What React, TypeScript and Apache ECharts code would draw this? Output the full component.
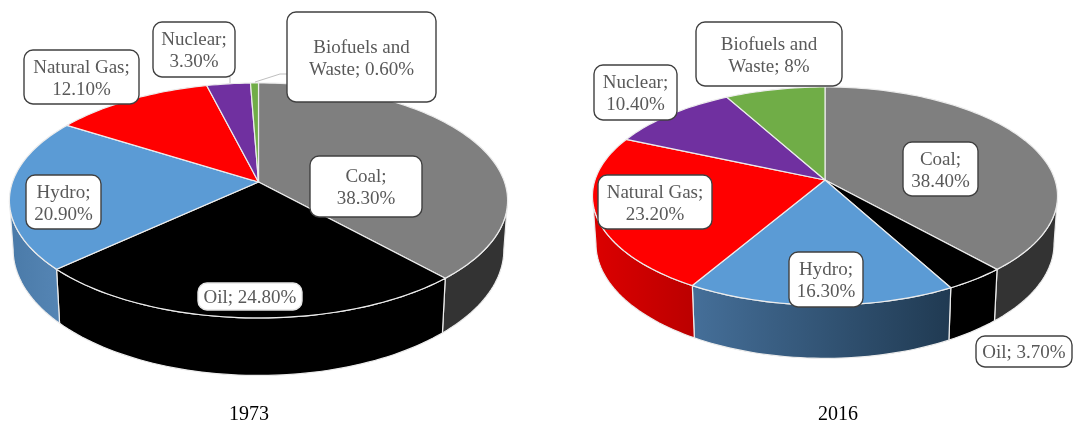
import React, { useEffect, useRef } from "react";
import * as echarts from "echarts";

const sources = ["Coal", "Oil", "Hydro", "Natural Gas", "Nuclear", "Biofuels and Waste"];
const values1973 = [38.3, 24.8, 20.9, 12.1, 3.3, 0.6];
const values2016 = [38.4, 3.7, 16.3, 23.2, 10.4, 8];
const labels1973 = ["Coal;\n38.30%", "Oil; 24.80%", "Hydro;\n20.90%", "Natural Gas;\n12.10%", "Nuclear;\n3.30%", "Biofuels and\nWaste; 0.60%"];
const labels2016 = ["Coal;\n38.40%", "Oil; 3.70%", "Hydro;\n16.30%", "Natural Gas;\n23.20%", "Nuclear;\n10.40%", "Biofuels and\nWaste; 8%"];
const years = ["1973", "2016"];

const topColors = ["#7f7f7f", "#000000", "#5b9bd5", "#ff0000", "#7030a0", "#70ad47"];
const grad = (a: string, b: string) =>
  new echarts.graphic.LinearGradient(0, 0, 1, 0, [
    { offset: 0, color: a },
    { offset: 1, color: b },
  ]);
const wallColors1973 = ["#333333", "#000000", grad("#4a7aa8", "#5585b4"), "#cc0000", "#5a2680", "#5a8a39"];
const wallColors2016 = ["#333333", "#000000", grad("#456f99", "#203a52"), grad("#dc0000", "#bb0000"), "#5a2680", "#5a8a39"];

// Projection of each disc: apex (x, y), radii a/b, perspective k, wall parameters
const geo1973 = { x: 258.5, y: 182, a: 246, b: 114.6, k: 0.157, shrink: 0.985, sy: 1.07, d: 48 };
const geo2016 = { x: 825, y: 180, a: 230, b: 106.7, k: 0.147, shrink: 0.985, sy: 1.05, d: 47 };

// Label boxes: x, y, w, h, stroke
const boxes1973 = [
  [310, 156, 112, 61, "#404040"],
  [198, 283, 104, 27, "#e4e4e4"],
  [26, 175, 75, 54, "#404040"],
  [24, 50, 115, 54, "#404040"],
  [153, 22, 82, 55, "#404040"],
  [287, 12, 149, 90, "#404040"],
];
const boxes2016 = [
  [903, 142, 75, 54, "#404040"],
  [976, 336, 96, 31, "#404040"],
  [789, 252, 74, 55, "#404040"],
  [598, 175, 114, 54, "#404040"],
  [594, 65, 83, 55, "#404040"],
  [696, 22, 146, 64, "#404040"],
];
const leaders = [
  [[230, 77], [230, 83]],
  [[255, 82], [280, 74], [288, 74]],
];

type Geo = typeof geo1973;
const rim = (g: Geo, deg: number) => {
  const t = (deg * Math.PI) / 180;
  const w = 1 + g.k * Math.cos(t);
  return [(g.a * Math.sin(t)) / w, (-g.b * Math.cos(t)) / w];
};
const topPt = (g: Geo, deg: number) => {
  const [dx, dy] = rim(g, deg);
  return [g.x + dx, g.y + dy];
};
const botPt = (g: Geo, deg: number) => {
  const [dx, dy] = rim(g, deg);
  return [g.x + dx * g.shrink, g.y + dy * g.sy + g.d];
};
const angles = (vals: number[]) => {
  const total = vals.reduce((s, v) => s + v, 0);
  let acc = 0;
  return vals.map((v) => {
    const a = (acc / total) * 360;
    acc += v;
    return [a, (acc / total) * 360];
  });
};
const arc = (fn: (d: number) => number[], a: number, b: number) => {
  const n = Math.max(2, Math.ceil(Math.abs(b - a) / 1.5));
  const pts: number[][] = [];
  for (let i = 0; i <= n; i++) pts.push(fn(a + ((b - a) * i) / n));
  return pts;
};

const wallSeries = (vals: number[], g: Geo, colors: any[]) => {
  const ang = angles(vals);
  const vis = (Math.acos(-g.k) * 180) / Math.PI;
  return {
    type: "custom",
    coordinateSystem: "none",
    z: 1,
    silent: true,
    data: vals,
    renderItem: (p: any) => {
      const [s, e] = ang[p.dataIndex];
      const a = Math.max(s, vis);
      const b = Math.min(e, 360 - vis);
      if (b <= a) return { type: "group", children: [] };
      const pts = [...arc((d) => topPt(g, d), a, b), ...arc((d) => botPt(g, d), b, a)];
      return {
        type: "polygon",
        shape: { points: pts },
        style: { fill: colors[p.dataIndex], stroke: "#ececec", lineWidth: 1.2 },
      };
    },
  };
};
const topSeries = (vals: number[], g: Geo) => {
  const ang = angles(vals);
  return {
    type: "custom",
    coordinateSystem: "none",
    z: 2,
    silent: true,
    data: vals,
    renderItem: (p: any) => {
      const [s, e] = ang[p.dataIndex];
      return {
        type: "polygon",
        shape: { points: [[g.x, g.y], ...arc((d) => topPt(g, d), s, e)] },
        style: { fill: topColors[p.dataIndex], stroke: "#ececec", lineWidth: 1.2 },
      };
    },
  };
};
const labelEls = (labels: string[], boxes: any[]) =>
  labels.flatMap((text, i) => {
    const [x, y, w, h, stroke] = boxes[i];
    return [
      {
        type: "rect",
        z: 10,
        shape: { x, y, width: w, height: h, r: 9 },
        style: { fill: "#ffffff", stroke, lineWidth: 1.4 },
      },
      {
        type: "text",
        z: 11,
        x: x + w / 2,
        y: y + h / 2,
        style: {
          text,
          fill: "#595959",
          fontFamily: "Liberation Serif",
          fontSize: 19,
          lineHeight: 22,
          align: "center",
          verticalAlign: "middle",
        },
      },
    ];
  });

const titleStyle = { fontFamily: "Liberation Serif", fontSize: 20, fontWeight: "normal", color: "#000" };

export default function App() {
  const ref = useRef<HTMLDivElement>(null);
  useEffect(() => {
    const chart = echarts.init(ref.current!, undefined, { renderer: "svg" });
    chart.setOption({
      animation: false,
      backgroundColor: "#ffffff",
      title: [
        { text: years[0], left: 249, top: 403, padding: 0, textAlign: "center", textStyle: titleStyle },
        { text: years[1], left: 838, top: 403, padding: 0, textAlign: "center", textStyle: titleStyle },
      ],
      series: [
        wallSeries(values1973, geo1973, wallColors1973),
        topSeries(values1973, geo1973),
        wallSeries(values2016, geo2016, wallColors2016),
        topSeries(values2016, geo2016),
      ],
      graphic: {
        elements: [
          ...leaders.map((points) => ({
            type: "polyline",
            z: 9,
            shape: { points },
            style: { stroke: "#bfbfbf", lineWidth: 1, fill: "none" },
          })),
          ...labelEls(labels1973, boxes1973),
          ...labelEls(labels2016, boxes2016),
        ],
      },
    });
    return () => chart.dispose();
  }, []);
  return (
    <div
      ref={ref}
      aria-label={sources.join(", ")}
      style={{ position: "fixed", left: 0, top: 0, width: 1073, height: 423, filter: "blur(0.4px)" }}
    />
  );
}
